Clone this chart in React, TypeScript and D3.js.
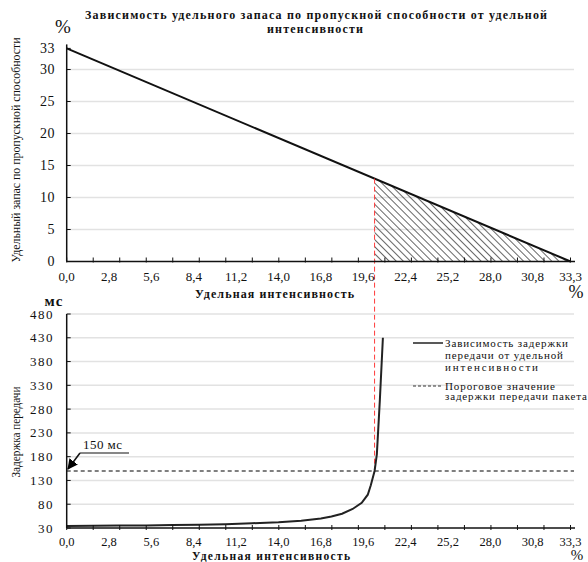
import React from 'react';
import * as d3 from 'd3';

// x axis: удельная интенсивность, %
const xTickValues = [0, 2.8, 5.6, 8.4, 11.2, 14.0, 16.8, 19.6, 22.4, 25.2, 28.0, 30.8, 33.3];
const xMax = 33.3;
const xMinorCount = 19;

// top chart: удельный запас
const reserveX = [0, 33.3];
const reserveY = [33.3, 0];
const reserveTicks = [0, 5, 10, 15, 20, 25, 30, 33.3];

// bottom chart: задержка передачи, мс
const delayX = [0, 1.75, 3.5, 5.25, 7, 8.75, 10.5, 12.25, 14, 15.5, 16.8, 17.5, 18.2, 18.9, 19.5, 19.9, 20.1, 20.35, 20.5, 20.7, 20.9];
const delayY = [34, 34.5, 35, 35.5, 36.5, 37, 38, 40, 42, 45, 50, 54, 60, 70, 83, 100, 120, 150, 185, 300, 430];
const delayTicks = [30, 80, 130, 180, 230, 280, 330, 380, 430, 480];

const threshold = 150;
const operatingX = 20.35;

const App = () => {
  const x = d3.scaleLinear().domain([0, xMax]).range([66.7, 570.5]);
  const yTop = d3.scaleLinear().domain([0, 33.3]).range([261.5, 48.4]);
  const yBot = d3.scaleLinear().domain([30, 480]).range([528, 314]);

  const fmtX = (v: number) => v.toFixed(1).replace('.', ',');
  const minor = d3.range(xMinorCount + 1).map(i => (i * xMax) / xMinorCount);

  const reserve = reserveX.map((v, i) => [v, reserveY[i]] as [number, number]);
  const reserveLine = d3.line<[number, number]>().x(d => x(d[0])).y(d => yTop(d[1]));

  // hatched part: from the operating point to the end
  const hatchPts: [number, number][] = [
    [operatingX, 0],
    [operatingX, reserveY[0] - operatingX],
    [xMax, 0],
  ];

  const delay = delayX.map((v, i) => [v, delayY[i]] as [number, number]);
  const delayLine = d3.line<[number, number]>().x(d => x(d[0])).y(d => yBot(d[1]));

  const gridEnd = 574;

  return (
    <svg width={588} height={562} style={{ position: 'absolute', left: 0, top: 0, background: '#fff' }}>
      <style>{`text { font-family: 'Liberation Serif', 'Times New Roman', serif; fill: #111; }`}</style>
      <defs>
        <pattern id="hatch" width={5} height={5} patternUnits="userSpaceOnUse" patternTransform="rotate(-45)">
          <line x1={0} y1={0} x2={0} y2={5} stroke="#000" strokeWidth={1.2} />
        </pattern>
        <marker id="arr" viewBox="0 0 10 10" refX={9} refY={5} markerWidth={7} markerHeight={7} orient="auto">
          <path d="M0,0 L10,5 L0,10 z" fill="#000" />
        </marker>
      </defs>

      {/* title */}
      <text x={316} y={19} textAnchor="middle" fontWeight="bold" fontSize={12} textLength={462} lengthAdjust="spacing">
        Зависимость удельного запаса по пропускной способности от удельной
      </text>
      <text x={315} y={33} textAnchor="middle" fontWeight="bold" fontSize={12} textLength={96} lengthAdjust="spacing">
        интенсивности
      </text>

      {/* ---------- top chart ---------- */}
      {reserveTicks.filter(t => t > 0 && t < 33).map(t => (
        <line key={t} x1={x(0)} x2={gridEnd} y1={yTop(t)} y2={yTop(t)} stroke="#e2e2e2" strokeWidth={1.5} />
      ))}
      <path d={(reserveLine(hatchPts) || '') + 'Z'} fill="url(#hatch)" />
      <path d={reserveLine(reserve) || ''} fill="none" stroke="#111" strokeWidth={2} />
      <line x1={x(operatingX)} x2={x(operatingX)} y1={yTop(reserveY[0] - operatingX)} y2={yBot(threshold)}
        stroke="#ff3b3b" strokeWidth={1} strokeDasharray="5,3" />

      <line x1={x(0)} x2={x(0)} y1={yTop(33.3) - 4} y2={yTop(0)} stroke="#111" strokeWidth={1.5} />
      <line x1={x(0)} x2={575} y1={yTop(0)} y2={yTop(0)} stroke="#111" strokeWidth={1.5} />
      {reserveTicks.map(t => (
        <g key={t}>
          <line x1={x(0)} x2={x(0) + 4} y1={yTop(t)} y2={yTop(t)} stroke="#111" />
          <text x={55} y={yTop(t) + 4.5} textAnchor="end" fontSize={14} letterSpacing={0.5}>
            {d3.format('.0f')(t)}
          </text>
        </g>
      ))}
      {minor.map((m, i) => (
        <line key={i} x1={x(m)} x2={x(m)} y1={yTop(0) - 4} y2={yTop(0) + 1} stroke="#111" />
      ))}
      {xTickValues.map(t => (
        <text key={t} x={x(t)} y={281} textAnchor="middle" fontSize={13}>{fmtX(t)}</text>
      ))}
      <text x={274.5} y={298} textAnchor="middle" fontWeight="bold" fontSize={12} textLength={159} lengthAdjust="spacing">
        Удельная интенсивность
      </text>
      <text x={63} y={33} textAnchor="middle" fontSize={19}>%</text>
      <text x={576} y={298} textAnchor="middle" fontSize={18}>%</text>
      <text transform="translate(20,150) rotate(-90)" textAnchor="middle" fontSize={13} textLength={225} lengthAdjust="spacingAndGlyphs">
        Удельный запас по пропускной способности
      </text>

      {/* ---------- bottom chart ---------- */}
      <text x={54} y={306} textAnchor="middle" fontWeight="bold" fontSize={15} letterSpacing={1}>мс</text>
      {delayTicks.filter(t => t > 30).map(t => (
        <line key={t} x1={x(0)} x2={gridEnd} y1={yBot(t)} y2={yBot(t)} stroke="#e2e2e2" strokeWidth={1.5} />
      ))}
      <line x1={x(0)} x2={gridEnd} y1={yBot(threshold)} y2={yBot(threshold)} stroke="#555" strokeWidth={1.5} strokeDasharray="4,3" />
      <path d={delayLine(delay) || ''} fill="none" stroke="#222" strokeWidth={2} />

      <line x1={x(0)} x2={x(0)} y1={yBot(480)} y2={yBot(30)} stroke="#111" strokeWidth={1.5} />
      <line x1={x(0)} x2={575} y1={yBot(30)} y2={yBot(30)} stroke="#111" strokeWidth={1.5} />
      {delayTicks.map(t => (
        <g key={t}>
          <line x1={x(0)} x2={x(0) + 4} y1={yBot(t)} y2={yBot(t)} stroke="#111" />
          <text x={54} y={yBot(t) + 4.5} textAnchor="end" fontSize={13} letterSpacing={1.5}>{t}</text>
        </g>
      ))}
      {minor.map((m, i) => (
        <line key={i} x1={x(m)} x2={x(m)} y1={yBot(30) - 3} y2={yBot(30) + 2} stroke="#111" />
      ))}
      {xTickValues.map(t => (
        <text key={t} x={x(t)} y={545.5} textAnchor="middle" fontSize={12.5}>{fmtX(t)}</text>
      ))}
      <text x={271} y={559.5} textAnchor="middle" fontWeight="bold" fontSize={11.5} textLength={158} lengthAdjust="spacing">
        Удельная интенсивность
      </text>
      <text x={577} y={560} textAnchor="middle" fontSize={15}>%</text>
      <text transform="translate(20,432) rotate(-90)" textAnchor="middle" fontSize={13} textLength={91} lengthAdjust="spacingAndGlyphs">
        Задержка передачи
      </text>

      {/* annotation */}
      <text x={83} y={449} fontSize={13} textLength={39} lengthAdjust="spacing">150 мс</text>
      <line x1={80} x2={129} y1={453} y2={453} stroke="#111" strokeWidth={1.2} />
      <line x1={80} y1={453} x2={68} y2={469} stroke="#111" strokeWidth={1.5} markerEnd="url(#arr)" />

      {/* legend */}
      <line x1={413} x2={443} y1={343} y2={343} stroke="#222" strokeWidth={1.5} />
      <text x={445} y={347} fontSize={11} textLength={123} lengthAdjust="spacing">Зависимость задержки</text>
      <text x={445} y={359} fontSize={11} textLength={118} lengthAdjust="spacing">передачи от удельной</text>
      <text x={445} y={371} fontSize={11} textLength={93} lengthAdjust="spacing">интенсивности</text>
      <line x1={413} x2={443} y1={386} y2={386} stroke="#333" strokeWidth={1} strokeDasharray="3,2" />
      <text x={445} y={389.5} fontSize={11} textLength={110} lengthAdjust="spacing">Пороговое значение</text>
      <text x={445} y={400} fontSize={11} textLength={142} lengthAdjust="spacing">задержки передачи пакета</text>
    </svg>
  );
};

export default App;
